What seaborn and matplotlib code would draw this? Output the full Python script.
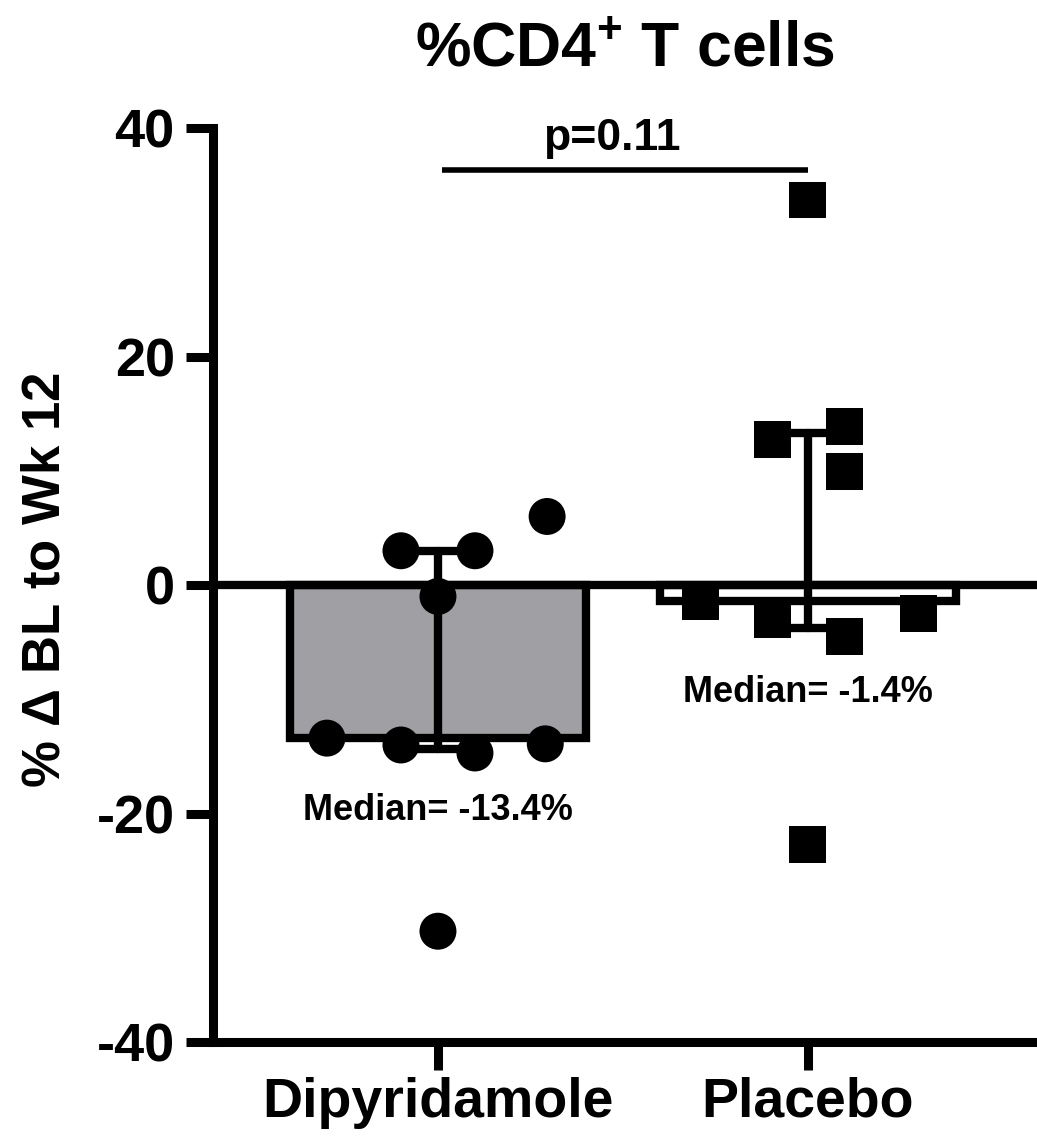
import numpy as np
import pandas as pd
import matplotlib
matplotlib.use("Agg")
import matplotlib.pyplot as plt
import seaborn as sns

# data (% change baseline -> week 12)
groups = ["Dipyridamole", "Placebo"]
dipyridamole = [3.0, 3.0, 6.0, -1.0, -13.4, -14.0, -14.7, -13.9, -30.3]
placebo = [33.7, 12.7, 13.9, 9.9, -1.4, -3.0, -4.5, -2.5, -22.7]
median_labels = ["Median= -13.4%", "Median= -1.4%"]
p_label = "p=0.11"

# horizontal scatter layout (GraphPad style spread), in category units
dipy_spread = [-0.10, 0.10, 0.295, 0.0, -0.30, -0.10, 0.10, 0.29, 0.0]
plac_spread = [0.0, -0.095, 0.10, 0.10, -0.29, -0.095, 0.10, 0.30, 0.0]

df = pd.DataFrame({
    "group": [groups[0]] * len(dipyridamole) + [groups[1]] * len(placebo),
    "value": dipyridamole + placebo,
})
df["xpos"] = df["group"].map({g: i for i, g in enumerate(groups)}) + np.array(dipy_spread + plac_spread)


def iqr(v):
    # GraphPad style quartiles
    return (np.percentile(v, 25, method="weibull"), np.percentile(v, 75, method="weibull"))


sns.set_style("ticks")
plt.rcParams["font.family"] = ["Liberation Sans", "DejaVu Sans"]
plt.rcParams["font.weight"] = "bold"
plt.rcParams["mathtext.fontset"] = "custom"
plt.rcParams["mathtext.bf"] = "Liberation Sans:bold"
plt.rcParams["mathtext.rm"] = "Liberation Sans:bold"
plt.rcParams["mathtext.sf"] = "Liberation Sans"
plt.rcParams["axes.unicode_minus"] = False
for key in ["text.color", "axes.labelcolor", "xtick.color", "ytick.color", "axes.edgecolor"]:
    plt.rcParams[key] = "black"

LW = 6

fig = plt.figure(figsize=(10.37, 11.47), dpi=100)
ax = fig.add_axes([0.2054, 0.0915, 0.7946, 0.7969])

sns.barplot(data=df, x="group", y="value", hue="group", order=groups,
            palette={"Dipyridamole": "#a0a0a4", "Placebo": "white"},
            estimator="median", errorbar=iqr, capsize=0.2, width=0.8,
            edgecolor="black", linewidth=LW,
            err_kws={"color": "black", "linewidth": LW, "zorder": 3},
            legend=False, ax=ax)

ax.axhline(0, color="black", lw=LW, zorder=2.5, solid_capstyle="butt")

sns.scatterplot(data=df, x="xpos", y="value", style="group",
                markers={"Dipyridamole": "o", "Placebo": "s"},
                s=708, color="black", edgecolor="black", linewidth=0,
                legend=False, zorder=4, ax=ax)

# significance bar
ax.plot([0.01, 1.0], [36.3, 36.3], color="black", lw=4, solid_capstyle="butt")
ax.text(0.47, 38.1, p_label, ha="center", va="baseline", fontsize=32, fontweight="bold")

ax.text(0.0, -20.6, median_labels[0], ha="center", va="baseline", fontsize=26, fontweight="bold")
ax.text(1.0, -10.25, median_labels[1], ha="center", va="baseline", fontsize=26, fontweight="bold")

ax.set_xlim(-0.608, 1.619)
ax.set_ylim(-40, 40)
ax.set_yticks([-40, -20, 0, 20, 40])
ax.set_xticks([0, 1])
ax.set_xticklabels(groups, fontsize=40, fontweight="bold")
ax.tick_params(axis="y", labelsize=39, width=6.5, length=19.5, pad=8, color="black")
ax.tick_params(axis="x", width=6.5, length=20, pad=5, color="black")
for lab in ax.get_yticklabels():
    lab.set_fontweight("bold")

ax.set_xlabel("")
ax.set_ylabel("% $\\mathsf{\\Delta}$ BL to Wk 12", fontsize=38, fontweight="bold")
ax.yaxis.set_label_coords(-0.173, 0.505)

ax.set_title("%CD4$^{\\mathbf{+}}$ T cells", fontsize=45, fontweight="bold", pad=44)

sns.despine(ax=ax, top=True, right=True)
for side in ["left", "bottom"]:
    ax.spines[side].set_linewidth(6.5)
    ax.spines[side].set_color("black")
    ax.spines[side].set_capstyle("projecting")

fig.savefig("out.png", dpi=100)
